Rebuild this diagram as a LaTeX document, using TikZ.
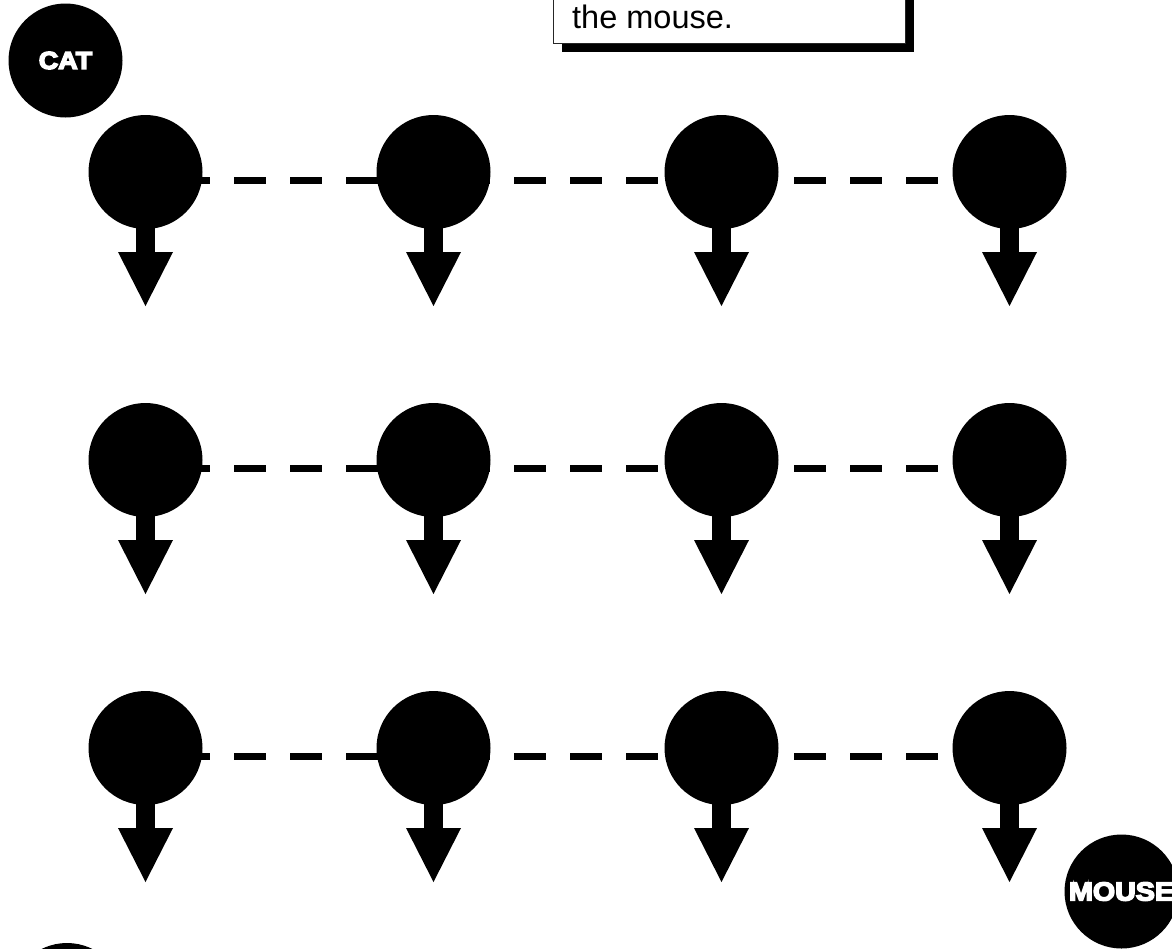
\documentclass[tikz,border=0pt]{standalone}
\usepackage{fontspec}
\setmainfont{Liberation Sans}
\newfontfamily\heavyfont{Liberation Sans}[BoldFeatures={FakeBold=6,FakeStretch=1.1}]
\usetikzlibrary{arrows.meta,shadows}
\begin{document}
\begin{tikzpicture}[x=1pt,y=-1pt,
  dot/.style={circle,fill=black,inner sep=0pt,minimum size=114pt},
  tagdot/.style={dot,text=white},
  link/.style={line width=7.3pt,dash pattern=on 32pt off 24pt,dash phase=23.5pt},
  drop/.style={line width=18.3pt,-{Triangle[length=54pt,width=55pt,line width=0pt]}},
  note/.style={draw=black!85,line width=1pt,fill=white,inner sep=0pt,
    drop shadow={shadow xshift=8pt,shadow yshift=-8pt,fill=black,opacity=1}}
]
\useasboundingbox (0,0) rectangle (1172,948);
\clip (0,0) rectangle (1172,948);

% note box (top part lies outside the picture)
\node[note,anchor=south west,minimum width=352pt,minimum height=120pt] (note) at (553,44) {};
\node[anchor=base west,inner sep=0pt,font=\fontsize{32.5}{38}\selectfont] (notetext) at (572,28.5) {the mouse.};

% grid of dots
\foreach \r/\yy in {0/172,1/460,2/748}{
  \foreach \c/\xx in {0/145.5,1/433.5,2/721.5,3/1009.5}{
    \node[dot] (d-\r-\c) at (\xx,\yy) {};
    \coordinate (t-\r-\c) at (\xx,\yy+134);
    \draw[drop] (d-\r-\c.center) -- (t-\r-\c);
  }
  \draw[link] ([yshift=-8.5pt]d-\r-0.center) -- ([yshift=-8.5pt]d-\r-3.center);
}

% labelled dots
\node[tagdot,font=\heavyfont\bfseries\fontsize{24.5}{27}\selectfont] (cat) at (65.5,60.5) {CAT};
\node[tagdot,font=\heavyfont\bfseries\fontsize{26}{29}\selectfont] (mouse) at (1121.5,891.5) {MOUSE};
\node[dot] (start) at (67,1000) {};
\end{tikzpicture}
\end{document}
